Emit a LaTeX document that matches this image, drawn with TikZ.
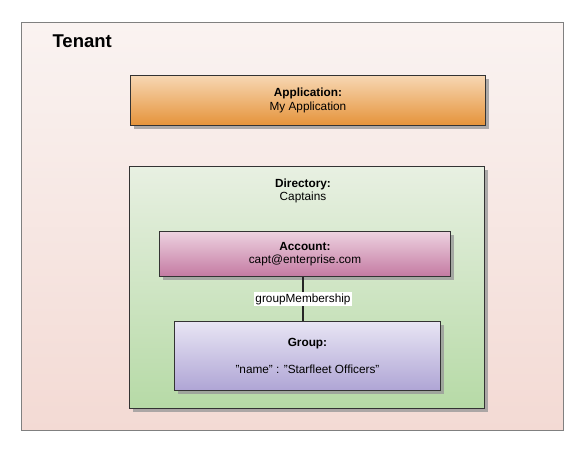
\documentclass[tikz,border=0pt]{standalone}
\usepackage{fontspec}
\setmainfont{Liberation Sans}
\usetikzlibrary{shadows}
\definecolor{tenanttop}{HTML}{FAF3F1}
\definecolor{tenantbot}{HTML}{F3DAD4}
\definecolor{apptop}{HTML}{F7D7B3}
\definecolor{appbot}{HTML}{E5933A}
\definecolor{dirtop}{HTML}{E8F0E2}
\definecolor{dirbot}{HTML}{B6DAA6}
\definecolor{acctop}{HTML}{EDD2E0}
\definecolor{accbot}{HTML}{C47AA2}
\definecolor{grptop}{HTML}{E8E5F4}
\definecolor{grpbot}{HTML}{AFA5D5}
\begin{document}
\begin{tikzpicture}[x=1pt,y=-1pt,font=\fontsize{11.8}{13.5}\selectfont,
  box/.style={draw=black!80,line width=0.9pt,anchor=north west,inner sep=0pt,align=center,
    drop shadow={shadow xshift=4pt,shadow yshift=-4pt,fill=black!40,opacity=0.8}},
  link/.style={draw=black!85,line width=1.6pt}]
\useasboundingbox (0,0) rectangle (581,449);
% tenant area
\node[draw=black!50,line width=0.9pt,anchor=north west,inner sep=0pt,
  top color=tenanttop,bottom color=tenantbot,minimum width=542,minimum height=408] (tenant) at (21,22) {};
\node[anchor=west,font=\fontsize{18.5}{20}\selectfont\bfseries] (tenantlab) at (49,41) {Tenant};
% application
\node[box,top color=apptop,bottom color=appbot,minimum width=355,minimum height=50] (app) at (130,75)
  {\textbf{Application:}\\My Application};
% directory with its account and group
\node[box,top color=dirtop,bottom color=dirbot,minimum width=355,minimum height=242] (dir) at (129,166) {};
\node[align=center] (dirlab) at (303,191) {\textbf{Directory:}\\Captains};
\node[box,top color=acctop,bottom color=accbot,minimum width=291,minimum height=45] (acc) at (159,231)
  {\textbf{Account:}\\capt@enterprise.com};
\node[box,top color=grptop,bottom color=grpbot,minimum width=266,minimum height=69] (grp) at (174,321)
  {\textbf{Group:}\\[13pt]"name" : "Starfleet Officers"};
\draw[link] (acc.south -| 303,0) -- (grp.north -| 303,0)
  node[midway,fill=white,inner sep=1.5pt,text=black] (memb) {groupMembership};
\end{tikzpicture}
\end{document}
